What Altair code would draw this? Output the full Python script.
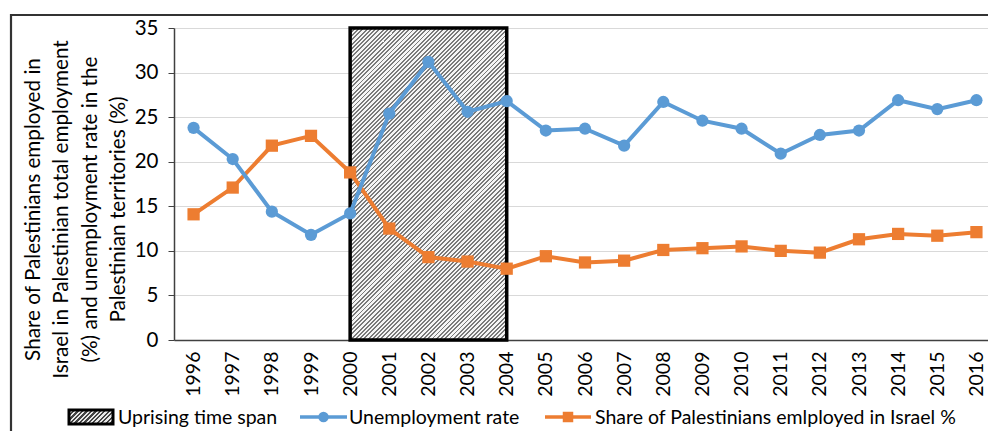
import altair as alt
import pandas as pd

# ---------------- data ----------------
years = [1996, 1997, 1998, 1999, 2000, 2001, 2002, 2003, 2004, 2005, 2006,
         2007, 2008, 2009, 2010, 2011, 2012, 2013, 2014, 2015, 2016]
unemployment = [23.8, 20.3, 14.4, 11.8, 14.2, 25.4, 31.2, 25.6, 26.8, 23.5, 23.7,
                21.8, 26.7, 24.6, 23.7, 20.9, 23.0, 23.5, 26.9, 25.9, 26.9]
share_israel = [14.1, 17.1, 21.8, 22.9, 18.8, 12.5, 9.3, 8.8, 8.0, 9.4, 8.7,
                8.9, 10.1, 10.3, 10.5, 10.0, 9.8, 11.3, 11.9, 11.7, 12.1]
uprising_start = [2000]
uprising_end = [2004]
y_ticks = [0, 5, 10, 15, 20, 25, 30, 35]
legend_labels = ["Uprising time span", "Unemployment rate",
                 "Share of Palestinians emlployed in Israel %"]
y_title = ["Share of Palestinians employed in",
           "Israel in Palestinian total employment",
           "(%) and unemployment rate in the",
           "Palestinian territories (%)"]

# ---------------- style ----------------
FONT = "Lato"
BLUE = "#5b9bd5"
ORANGE = "#ed7d31"
W, H = 822, 312


def hatch(w, h, period, dark="#7a7a7a", light="#f5f5f5", frac=0.45):
    """Diagonal '/' stripes as a linear gradient (objectBoundingBox units)."""
    k = (w + h) / (w * w + h * h)
    n = int(round((w + h) / 2 ** 0.5 / period))
    stops = []
    for i in range(n):
        a, m, b = i / n, (i + frac) / n, (i + 1) / n
        stops += [alt.GradientStop(color=dark, offset=a),
                  alt.GradientStop(color=dark, offset=m),
                  alt.GradientStop(color=light, offset=m),
                  alt.GradientStop(color=light, offset=b)]
    return alt.LinearGradient(gradient="linear", stops=stops,
                              x1=0, y1=0, x2=k * w, y2=k * h)


df = pd.DataFrame({"year": years, "unemp": unemployment, "share": share_israel})
span = pd.DataFrame({"start": uprising_start, "end": uprising_end,
                     "lo": [y_ticks[0]], "hi": [y_ticks[-1]]})
one = pd.DataFrame({"label": legend_labels})

xscale = alt.Scale(domain=[years[0] - 0.5, years[-1] + 0.5], nice=False, zero=False)
yscale = alt.Scale(domain=[y_ticks[0], y_ticks[-1]], nice=False)

x_enc = alt.X("year:Q", scale=xscale,
              axis=alt.Axis(values=years, format="d", labelAngle=270, ticks=False,
                            grid=False, title=None, labelFont=FONT, labelFontSize=19.5,
                            labelColor="black", labelPadding=11, domainColor="#404040",
                            domainWidth=1.5, labelFlush=False, labelOverlap=False))
y_axis = alt.Axis(values=y_ticks, title=y_title, titleFont=FONT, titleFontSize=20.7,
                  titleFontWeight="normal", titleColor="black", titleAngle=270,
                  titleAlign="center", titleBaseline="middle", titleLineHeight=28.5,
                  titleX=-141, titleY=181, labelFont=FONT, labelFontSize=20.5,
                  labelColor="black", labelPadding=10, tickSize=6, tickColor="#404040",
                  domainColor="#404040", domainWidth=1.5, gridColor="#d9d9d9",
                  gridWidth=1.2)

base = alt.Chart(df)

span_rect = alt.Chart(span).mark_rect(
    fill=hatch(4 * W / 21, H, 3.0), stroke="black", strokeWidth=3.5
).encode(x=alt.X("start:Q", scale=xscale), x2="end:Q",
         y=alt.Y("lo:Q", scale=yscale, axis=y_axis), y2="hi:Q")

axis_layer = base.mark_point(opacity=0).encode(
    x=x_enc, y=alt.Y("unemp:Q", scale=yscale, axis=y_axis))

line_u = base.mark_line(color=BLUE, strokeWidth=4).encode(
    x=alt.X("year:Q", scale=xscale), y=alt.Y("unemp:Q", scale=yscale))
pt_u = base.mark_point(color=BLUE, filled=True, opacity=1, shape="circle", size=150).encode(
    x=alt.X("year:Q", scale=xscale), y=alt.Y("unemp:Q", scale=yscale))
line_s = base.mark_line(color=ORANGE, strokeWidth=4).encode(
    x=alt.X("year:Q", scale=xscale), y=alt.Y("share:Q", scale=yscale))
pt_s = base.mark_point(color=ORANGE, filled=True, opacity=1, shape="square", size=150).encode(
    x=alt.X("year:Q", scale=xscale), y=alt.Y("share:Q", scale=yscale))

# ---------------- outer frame ----------------
frame = alt.Chart(one.head(1)).mark_rect(
    fill=None, stroke="#333333", strokeWidth=2.2
).encode(x=alt.value(-163), x2=alt.value(W + 60), y=alt.value(-13), y2=alt.value(H + 200))

# ---------------- legend ----------------
LY = 389
leg_sw = alt.Chart(one.head(1)).mark_rect(
    fill=hatch(44, 14, 3.2, dark="#444444", light="#e8e8e8", frac=0.5),
    stroke="black", strokeWidth=3
).encode(x=alt.value(-105), x2=alt.value(-61), y=alt.value(LY - 7), y2=alt.value(LY + 7))
leg_lu = alt.Chart(one.head(1)).mark_rule(color=BLUE, strokeWidth=3.5).encode(
    x=alt.value(126), x2=alt.value(173), y=alt.value(LY))
leg_pu = alt.Chart(one.head(1)).mark_point(
    color=BLUE, filled=True, opacity=1, shape="circle", size=110
).encode(x=alt.value(149.5), y=alt.value(LY))
leg_ls = alt.Chart(one.head(1)).mark_rule(color=ORANGE, strokeWidth=3.5).encode(
    x=alt.value(371), x2=alt.value(417), y=alt.value(LY))
leg_ps = alt.Chart(one.head(1)).mark_point(
    color=ORANGE, filled=True, opacity=1, shape="square", size=110
).encode(x=alt.value(394), y=alt.value(LY))


def leg_text(i, x):
    return alt.Chart(one.iloc[[i]]).mark_text(
        font=FONT, fontSize=19.5, color="black", align="left", baseline="middle"
    ).encode(x=alt.value(x), y=alt.value(LY + 1), text="label:N")


chart = alt.layer(
    axis_layer, span_rect, line_s, line_u, pt_s, pt_u, frame,
    leg_sw, leg_lu, leg_pu, leg_ls, leg_ps,
    leg_text(0, -56), leg_text(1, 175), leg_text(2, 421)
).properties(
    width=W, height=H,
    autosize=alt.AutoSizeParams(type="none"),
    padding={"left": 166, "top": 20, "right": -8, "bottom": 91},
).configure_view(stroke=None).configure(background="white")

chart.save("out.html", embed_options={"renderer": "svg", "actions": False})
